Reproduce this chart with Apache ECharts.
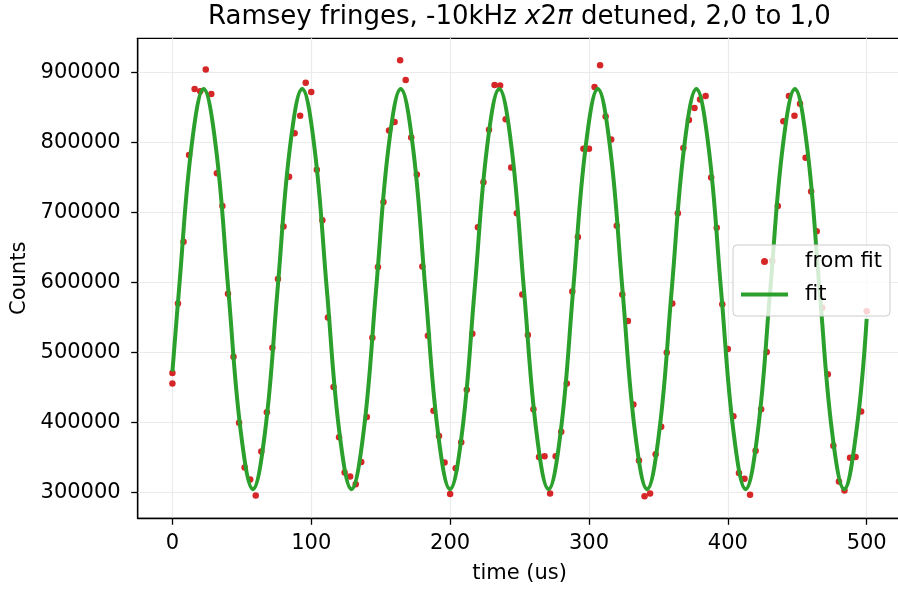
<!DOCTYPE html>
<html>
<head>
<meta charset="utf-8">
<title>Ramsey fringes</title>
<script src="https://cdn.jsdelivr.net/npm/echarts@6/dist/echarts.min.js"></script>
<style>
  html, body { margin: 0; padding: 0; background: #ffffff; }
  #chart { width: 898px; height: 589px; }
</style>
</head>
<body>
<div id="chart"></div>
<script>
// Measured counts, sampled every 4 us (t = 0 was taken twice)
const sampleTimes = [
  0, 0, 4, 8, 12, 16, 20, 24, 28, 32, 36, 40, 44, 48, 52, 56, 60, 64, 68, 72,
  76, 80, 84, 88, 92, 96, 100, 104, 108, 112, 116, 120, 124, 128, 132, 136, 140, 144, 148, 152,
  156, 160, 164, 168, 172, 176, 180, 184, 188, 192, 196, 200, 204, 208, 212, 216, 220, 224, 228, 232,
  236, 240, 244, 248, 252, 256, 260, 264, 268, 272, 276, 280, 284, 288, 292, 296, 300, 304, 308, 312,
  316, 320, 324, 328, 332, 336, 340, 344, 348, 352, 356, 360, 364, 368, 372, 376, 380, 384, 388, 392,
  396, 400, 404, 408, 412, 416, 420, 424, 428, 432, 436, 440, 444, 448, 452, 456, 460, 464, 468, 472,
  476, 480, 484, 488, 492, 496, 500
];
const sampleCounts = [
  456000, 471000, 570000, 658000, 782000, 876000, 873000, 904000, 869000, 756000,
  709000, 584000, 494000, 400000, 336000, 319000, 296000, 359000, 415000, 507000,
  605000, 680000, 751000, 813000, 838000, 885000, 872000, 761000, 689000, 550000,
  451000, 379000, 329000, 323000, 312000, 344000, 408000, 521000, 622000, 715000,
  817000, 829000, 917000, 889000, 807000, 754000, 623000, 524000, 417000, 381000,
  343000, 298000, 335000, 372000, 447000, 527000, 679000, 743000, 818000, 882000,
  881000, 833000, 764000, 699000, 583000, 525000, 419000, 351000, 352000, 299000,
  352000, 387000, 456000, 587000, 665000, 791000, 791000, 879000, 910000, 837000,
  804000, 681000, 583000, 545000, 426000, 346000, 295000, 299000, 355000, 394000,
  500000, 570000, 699000, 792000, 832000, 849000, 861000, 866000, 750000, 678000,
  569000, 505000, 409000, 328000, 320000, 297000, 360000, 419000, 501000, 631000,
  709000, 830000, 866000, 838000, 855000, 778000, 730000, 673000, 564000, 469000,
  367000, 316000, 303000, 350000, 351000, 416000, 559000
];

// Fitted fringe, read at its peaks, troughs, crossings and eighth-period points
const fitTimes = [
  0, 4.76, 13.63, 22.5, 31.37, 40.24, 49.11, 57.98, 66.86, 75.73,
  84.6, 93.47, 102.34, 111.21, 120.08, 128.95, 137.82, 146.69, 155.57, 164.44,
  173.31, 182.18, 191.05, 199.92, 208.79, 217.66, 226.53, 235.4, 244.28, 253.15,
  262.02, 270.89, 279.76, 288.63, 297.5, 306.37, 315.24, 324.11, 332.99, 341.86,
  350.73, 359.6, 368.47, 377.34, 386.21, 395.08, 403.95, 412.82, 421.7, 430.57,
  439.44, 448.31, 457.18, 466.05, 474.92, 483.79, 492.66, 500
];
const fitCounts = [
  473000, 590000, 792000, 876000, 792000, 590000, 389000, 305000, 389000, 590000,
  792000, 876000, 792000, 590000, 389000, 305000, 389000, 590000, 792000, 876000,
  792000, 590000, 389000, 305000, 389000, 590000, 792000, 876000, 792000, 590000,
  389000, 305000, 389000, 590000, 792000, 876000, 792000, 590000, 389000, 305000,
  389000, 590000, 792000, 876000, 792000, 590000, 389000, 305000, 389000, 590000,
  792000, 876000, 792000, 590000, 389000, 305000, 389000, 548000
];

const xTicks = [0, 100, 200, 300, 400, 500];
const yTicks = [300000, 400000, 500000, 600000, 700000, 800000, 900000];

const FONT = 'DejaVu Sans';
const chart = echarts.init(document.getElementById('chart'), null, { renderer: 'canvas' });

const spine = { color: '#000000', width: 1.3 };
const gridLine = { color: '#ebebeb', width: 1.2 };
const plainNumber = (v) => String(Math.round(v));

chart.setOption({
  animation: false,
  backgroundColor: '#ffffff',
  textStyle: { fontFamily: FONT },
  title: {
    text: '{a|Ramsey fringes, -10kHz }{i|x}{a|2}{i|π}{a| detuned, 2,0 to 1,0}',
    left: 208,
    top: 0,
    padding: [2, 0, 0, 0],
    textStyle: {
      fontWeight: 'normal',
      rich: {
        a: { fontFamily: FONT, fontSize: 26, fontWeight: 'normal', color: '#000000', lineHeight: 31 },
        i: { fontFamily: FONT, fontSize: 26, fontWeight: 'normal', color: '#000000', lineHeight: 31, fontStyle: 'italic' }
      }
    }
  },
  legend: {
    orient: 'vertical',
    left: 733,
    top: 245,
    padding: [6, 8, 11, 6],
    itemGap: 12,
    itemWidth: 47,
    itemHeight: 7,
    backgroundColor: 'rgba(255,255,255,0.8)',
    borderColor: '#cccccc',
    borderWidth: 1,
    borderRadius: 4,
    textStyle: { fontFamily: FONT, fontSize: 21, color: '#000000', padding: [0, 0, 0, 12] },
    data: [
      { name: 'from fit' },
      { name: 'fit', itemStyle: { opacity: 0 }, lineStyle: { width: 4, color: '#2ca02c' } }
    ]
  },
  grid: {
    left: 137.7,
    right: -3.4,
    top: 38.3,
    bottom: 70.7,
    containLabel: false,
    outerBoundsMode: 'none',
    show: true,
    borderColor: '#000000',
    borderWidth: 1.3,
    backgroundColor: 'transparent'
  },
  xAxis: {
    type: 'value',
    min: -25,
    max: 525,
    name: 'time (us)',
    nameLocation: 'middle',
    nameGap: 45,
    nameTextStyle: { fontFamily: FONT, fontSize: 21, color: '#000000' },
    axisLine: { show: true, onZero: false, lineStyle: spine },
    axisTick: { show: true, inside: false, length: 6.5, customValues: xTicks, lineStyle: spine },
    axisLabel: { customValues: xTicks, formatter: plainNumber, fontFamily: FONT, fontSize: 21, color: '#000000', margin: 15 },
    splitLine: { show: true, lineStyle: gridLine }
  },
  yAxis: {
    type: 'value',
    min: 263500,
    max: 948500,
    name: 'Counts',
    nameLocation: 'middle',
    nameGap: 104,
    nameRotate: 90,
    nameTextStyle: { fontFamily: FONT, fontSize: 21, color: '#000000' },
    axisLine: { show: true, onZero: false, lineStyle: spine },
    axisTick: { show: true, inside: false, length: 6.5, customValues: yTicks, lineStyle: spine },
    axisLabel: { customValues: yTicks, formatter: plainNumber, fontFamily: FONT, fontSize: 21, color: '#000000', margin: 17 },
    splitLine: { show: true, lineStyle: gridLine }
  },
  series: [
    {
      name: 'from fit',
      type: 'scatter',
      data: sampleTimes.map((t, i) => [t, sampleCounts[i]]),
      symbol: 'circle',
      symbolSize: 6.5,
      itemStyle: { color: '#d62728', opacity: 1 },
      z: 2
    },
    {
      name: 'fit',
      type: 'line',
      data: fitTimes.map((t, i) => [t, fitCounts[i]]),
      smooth: 0.4,
      symbol: 'none',
      lineStyle: { color: '#2ca02c', width: 4, cap: 'butt' },
      itemStyle: { color: '#2ca02c' },
      z: 3
    }
  ]
});
</script>
</body>
</html>
